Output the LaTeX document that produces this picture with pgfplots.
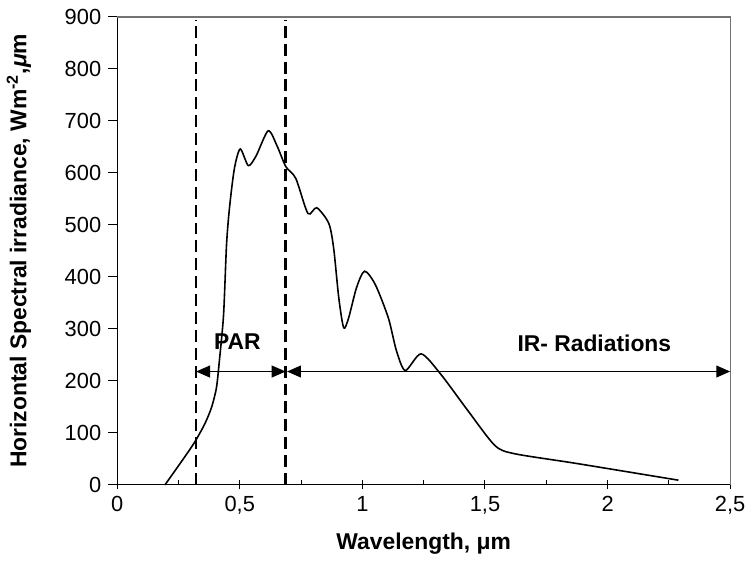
\documentclass[border=0pt]{standalone}
\usepackage{pgfplots}
\pgfplotsset{compat=1.18}
\usepackage{fontspec}
\setmainfont{Liberation Sans}
\usetikzlibrary{arrows.meta}
\begin{document}
\begin{tikzpicture}
\begin{axis}[
  scale only axis, width=308.5pt, height=235.5pt,
  xmin=0, xmax=2.5, ymin=0, ymax=900,
  axis x line*=bottom, axis y line*=left,
  xtick={0,0.5,1,1.5,2,2.5}, ytick={0,100,...,900},
  /pgf/number format/assume math mode=true,
  /pgf/number format/use comma,
  /pgf/number format/fixed,
  ticklabel style={font=\fontsize{11}{13}\selectfont},
  xtick align=center, ytick align=outside, major tick length=4.5pt,
  extra x ticks={0.25,0.75,1.25,1.75,2.25},
  extra x tick labels={},
  extra x tick style={tick align=inside, major tick length=2.5pt},
  tick style={black, line width=0.5pt},
  axis line style={black, line width=0.6pt},
  xlabel={\fontsize{11.5}{13}\selectfont\bfseries Wavelength, μm},
  ylabel={\fontsize{11.5}{13}\selectfont\bfseries Horizontal Spectral irradiance, Wm\textsuperscript{-2},\textit{μ}m},
  ylabel style={yshift=10pt},
  clip=false,
]
\draw[black!55, line width=0.6pt] (rel axis cs:0,1) -- (rel axis cs:1,1) -- (rel axis cs:1,0);
% spectrum
\addplot[black, line width=0.8pt, smooth, tension=0.45] coordinates {
(0.195,0) (0.267,48) (0.316,82) (0.357,117) (0.385,149) (0.405,187)
(0.417,239) (0.434,327) (0.446,461) (0.458,532) (0.478,608) (0.502,646)
(0.535,614) (0.567,633) (0.616,681) (0.652,652) (0.688,612) (0.729,589)
(0.778,522) (0.814,533) (0.863,503) (0.883,455) (0.904,359) (0.924,302)
(0.944,321) (0.976,379) (1.009,411) (1.053,385) (1.106,321) (1.139,258)
(1.175,220) (1.24,252) (1.321,212) (1.43,143) (1.54,76) (1.62,60)
(1.876,41) (2.289,9)
};
% boundaries
\addplot[black, line width=1.3pt, dash pattern=on 6pt off 3pt] coordinates {(0.322,0) (0.322,895)};
\addplot[black, line width=1.3pt, dash pattern=on 6pt off 3pt] coordinates {(0.687,0) (0.687,895)};
% arrows
\addplot[black, line width=0.6pt, {Triangle[length=7pt,width=6pt]}-{Triangle[length=7pt,width=6pt]}] coordinates {(0.322,218) (0.687,218)};
\addplot[black, line width=0.6pt, {Triangle[length=7pt,width=6pt]}-{Triangle[length=7pt,width=6pt]}] coordinates {(0.693,218) (2.5,218)};
\node[font=\fontsize{11.5}{13}\selectfont\bfseries] at (axis cs:0.49,275) {PAR};
\node[font=\fontsize{11.5}{13}\selectfont\bfseries] at (axis cs:1.946,273) {IR- Radiations};
\end{axis}
\path (0,-43pt) (0,244pt);
\end{tikzpicture}
\end{document}
